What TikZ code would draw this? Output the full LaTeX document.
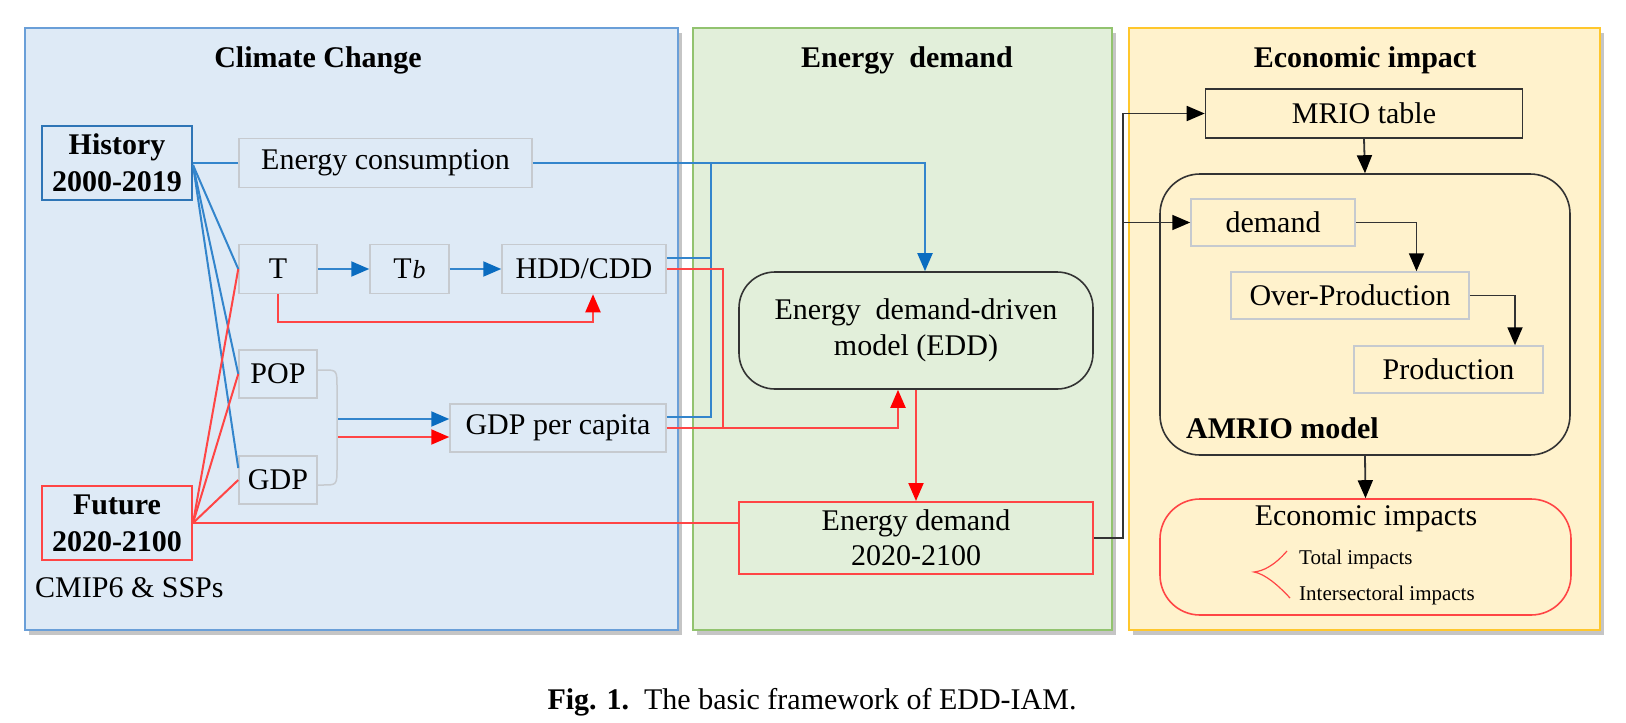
\documentclass[tikz,border=0pt]{standalone}
\usepackage{fontspec}
\setmainfont{Liberation Serif}
\usetikzlibrary{arrows.meta,shadows}
\definecolor{pbluefill}{HTML}{DEEAF6}
\definecolor{pblueline}{HTML}{6A9FD8}
\definecolor{pgreenfill}{HTML}{E2EFDA}
\definecolor{pgreenline}{HTML}{92C36F}
\definecolor{pyelfill}{HTML}{FFF2CC}
\definecolor{pyelline}{HTML}{FFC72C}
\definecolor{lblue}{HTML}{3385CC}
\definecolor{tblue}{HTML}{0A6CC0}
\definecolor{lred}{HTML}{FF4545}
\definecolor{tred}{HTML}{FF0000}
\definecolor{gboxline}{HTML}{C6CACF}
\definecolor{dline}{HTML}{333333}
\definecolor{hblue}{HTML}{2E75B6}
\begin{document}
\begin{tikzpicture}[x=1pt,y=-1pt,
  txt/.style={font=\fontsize{30}{36}\selectfont, align=center, inner sep=0pt},
  ttl/.style={font=\bfseries\fontsize{30}{36}\selectfont, inner sep=0pt},
  panel/.style={line width=2pt, drop shadow={shadow xshift=4pt, shadow yshift=-5pt, opacity=0.45, fill=gray}},
  gbox/.style={txt, draw=gboxline, line width=1.5pt},
  kbox/.style={txt, draw=dline, line width=1.6pt},
  bline/.style={draw=lblue, line width=2pt},
  rline/.style={draw=lred, line width=2pt},
  kline/.style={draw=dline, line width=1.8pt},
  barw/.style={-{Triangle[length=18pt,width=15pt,color=tblue]}},
  rarw/.style={-{Triangle[length=18pt,width=15pt,color=tred]}},
  karw/.style={-{Triangle[length=18pt,width=15pt,color=black]}}
]
\useasboundingbox (0,0) rectangle (1626,723);
\fill[white] (0,0) rectangle (1626,723);

% panels
\draw[panel, draw=pblueline, fill=pbluefill] (25,28) rectangle (678,630);
\draw[panel, draw=pgreenline, fill=pgreenfill] (693,28) rectangle (1112,630);
\draw[panel, draw=pyelline, fill=pyelfill] (1129,28) rectangle (1600,630);

% titles
\node[ttl] (t1) at (318,60) {Climate Change};
\node[ttl] (t2) at (907,60) {Energy~~demand};
\node[ttl] (t3) at (1365,60) {Economic impact};

% climate change nodes
\node[txt, font=\bfseries\fontsize{30}{37}\selectfont, draw=hblue, line width=2pt, minimum width=150pt, minimum height=74pt] (hist) at (117,163) {History\\2000-2019};
\node[txt, font=\bfseries\fontsize{30}{37}\selectfont, draw=lred, line width=2pt, minimum width=150pt, minimum height=74pt] (fut) at (117,523) {Future\\2020-2100};
\node[txt, anchor=west] (cmip) at (35,588) {CMIP6 \& SSPs};

\node[gbox, minimum width=293pt, minimum height=49pt] (econs) at (385.5,163) {Energy consumption};
\node[gbox, minimum width=78pt, minimum height=49pt] (T) at (278,269) {T};
\node[gbox, minimum width=79pt, minimum height=49pt] (Tb) at (409.5,269) {T\kern1pt{\itshape\fontsize{26}{26}\selectfont b}};
\node[gbox, minimum width=164pt, minimum height=49pt] (hdd) at (584,269) {HDD/CDD};
\node[gbox, minimum width=78pt, minimum height=48pt] (pop) at (278,374) {POP};
\node[gbox, minimum width=78pt, minimum height=48pt] (gdp) at (278,480) {GDP};
\node[gbox, minimum width=216pt, minimum height=48pt] (gdppc) at (558,428) {GDP per capita};

% energy demand nodes
\node[txt, draw=dline, line width=1.6pt, rounded corners=36pt, minimum width=354pt, minimum height=117pt] (edd) at (916,330.5) {Energy~~demand-driven\\model (EDD)};
\node[txt, draw=lred, line width=2pt, minimum width=354pt, minimum height=72pt, font=\fontsize{30}{35}\selectfont] (ed) at (916,538) {Energy demand\\2020-2100};

% economic impact nodes
\node[kbox, minimum width=317pt, minimum height=49pt] (mrio) at (1364,113.5) {MRIO table};
\node[draw=dline, line width=1.6pt, rounded corners=40pt, minimum width=410pt, minimum height=281pt, inner sep=0pt] (amrio) at (1365,314.5) {};
\node[ttl, anchor=west] (amlab) at (1186,428) {AMRIO model};
\node[gbox, minimum width=164pt, minimum height=47pt] (dem) at (1273,222.5) {demand};
\node[gbox, minimum width=238pt, minimum height=47pt] (op) at (1350,295.5) {Over-Production};
\node[gbox, minimum width=189pt, minimum height=47pt] (prod) at (1448.5,369.5) {Production};
\node[draw=lred, line width=1.6pt, rounded corners=40pt, minimum width=411pt, minimum height=116pt, inner sep=0pt] (eimp) at (1365.5,557) {};
\node[txt] (eit) at (1366,519) {Economic impacts};
\node[txt, anchor=west, font=\fontsize{21}{24}\selectfont] (tot) at (1299,559) {Total impacts};
\node[txt, anchor=west, font=\fontsize{21}{24}\selectfont] (inter) at (1299,595) {Intersectoral impacts};
\draw[draw=lred, line width=1.2pt] (1287,551) .. controls (1274,566) and (1263,571) .. (1254,572)
      .. controls (1265,574) and (1278,585) .. (1290,598);

% coordinates
\coordinate (vb) at (711,163);
\coordinate (vr) at (723,269);
\coordinate (brk) at (337,428);
\coordinate (bus) at (1123,222.5);

% blue connectors
\draw[bline] (hist.east) -- (econs.west);
\draw[bline, barw] (econs.east) -| ([xshift=9pt]edd.north);
\draw[bline] ([yshift=11pt]hdd.east) -| (vb);
\draw[bline] ([yshift=11pt]gdppc.east) -| (vb);
\draw[bline] ([yshift=-2pt]hist.east) -- (T.west);
\draw[bline] ([yshift=-2pt]hist.east) -- (pop.west);
\draw[bline] ([yshift=-2pt]hist.east) -- ([yshift=12pt]gdp.west);
\draw[bline, barw] (T.east) -- (Tb.west);
\draw[bline, barw] (Tb.east) -- (hdd.west);
\draw[bline, barw] (brk |- 0,419) -- ([yshift=9pt]gdppc.west);

% red connectors
\draw[rline] (hdd.east) -| (vr |- gdppc.east);
\draw[rline, rarw] (gdppc.east) -| ([xshift=-18pt]edd.south);
\draw[rline, rarw] (edd.south) -- (ed.north);
\draw[rline] (fut.east) -- (fut.east -| ed.west);
\draw[rline] (fut.east) -- (T.west);
\draw[rline] (fut.east) -- (pop.west);
\draw[rline] (fut.east) -- (gdp.west);
\draw[rline, rarw] (T.south) -- ++(0,28) -| ([xshift=9pt]hdd.south);
\draw[rline, rarw] (brk |- 0,437) -- ([yshift=-9pt]gdppc.west);

% gray bracket POP/GDP
\draw[draw=gboxline, line width=1.5pt] ([yshift=4pt]pop.east) -- ++(6,0) .. controls (337,370) .. (337,388) -- (337,467) .. controls (337,485) .. (323,485) -- ([yshift=-5pt]gdp.east);

% black connectors
\draw[kline, karw] (ed.east) -- (bus |- ed.east) |- (mrio.west);
\draw[kline, karw] (bus) -- (dem.west);
\draw[kline, karw] (mrio.south) -- (amrio.north);
\draw[kline, karw] (dem.east) -| ([xshift=66.5pt]op.north);
\draw[kline, karw] (op.east) -| ([xshift=66.5pt]prod.north);
\draw[kline, karw] (amrio.south) -- (eimp.north);

% caption
\node[txt] (cap) at (812,702) {\textbf{Fig. 1.}~~The basic framework of EDD-IAM.};
\end{tikzpicture}
\end{document}
